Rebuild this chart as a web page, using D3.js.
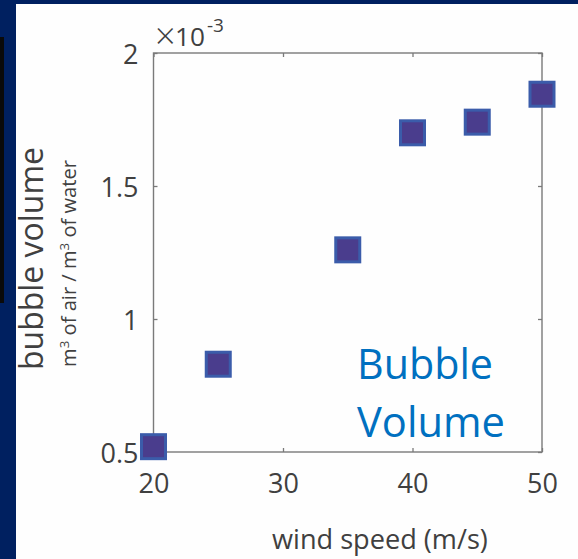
<!DOCTYPE html>
<html>
<head>
<meta charset="utf-8">
<script src="https://cdn.jsdelivr.net/npm/d3@7"></script>
<style>
  html, body { margin: 0; padding: 0; background: #fff; }
  svg { display: block; }
  text { font-family: "Open Sans", "Noto Sans", sans-serif; }
</style>
</head>
<body>
<svg id="chart" width="578" height="559"></svg>
<script>
// Wind speed (m/s) and the measured bubble volume (m³ of air per m³ of water)
const windSpeed = [20, 25, 35, 40, 45, 50];
const bubbleVolume = [0.52e-3, 0.83e-3, 1.26e-3, 1.70e-3, 1.74e-3, 1.845e-3];

const xTicks = [20, 30, 40, 50];
const yTicks = [0.5e-3, 1.0e-3, 1.5e-3, 2.0e-3];
const yExponent = -3;

const svg = d3.select("#chart");
const W = 578, H = 559;

// slide frame
svg.append("rect").attr("width", W).attr("height", H).attr("fill", "#002060");
svg.append("rect").attr("x", 0).attr("y", 37).attr("width", 4).attr("height", 266).attr("fill", "#0a0a0a");
svg.append("rect").attr("x", 16).attr("y", 4).attr("width", W - 16).attr("height", H - 4).attr("fill", "#fefefe");

const plot = { left: 153.5, right: 542, top: 53, bottom: 452 };

const x = d3.scaleLinear().domain([20, 50]).range([plot.left, plot.right]);
const y = d3.scaleLinear().domain([0.5e-3, 2e-3]).range([plot.bottom, plot.top]);

const axisColor = "#7a7a7a";
const textColor = "#404040";
const tickFont = "27px";
const fmt = v => d3.format("~g")(+(v / Math.pow(10, yExponent)).toFixed(6));

// scale a text's font size so that it spans the given width
function fitWidth(sel, target) {
  const node = sel.node();
  const fs = parseFloat(sel.style("font-size"));
  const len = node.getComputedTextLength();
  if (len > 0) sel.style("font-size", (fs * target / len) + "px");
  return sel;
}

function styleAxis(g, showLabels) {
  g.select(".domain").remove();
  g.selectAll(".tick line").attr("stroke", axisColor).attr("stroke-width", 1.3);
  if (showLabels) g.selectAll(".tick text").attr("fill", textColor).style("font-size", tickFont);
  else g.selectAll(".tick text").remove();
}

// bottom and top axes (ticks point inward)
svg.append("g").attr("transform", `translate(0,${plot.bottom})`)
  .call(d3.axisBottom(x).tickValues(xTicks).tickSize(-4).tickPadding(22).tickFormat(d3.format("d")))
  .call(g => styleAxis(g, true));
svg.append("g").attr("transform", `translate(0,${plot.top})`)
  .call(d3.axisTop(x).tickValues(xTicks).tickSize(-4).tickFormat(""))
  .call(g => styleAxis(g, false));

// left and right axes
svg.append("g").attr("transform", `translate(${plot.left},0)`)
  .call(d3.axisLeft(y).tickValues(yTicks).tickSize(-4).tickPadding(15).tickFormat(fmt))
  .call(g => styleAxis(g, true))
  .call(g => g.selectAll(".tick text").attr("dy", "0.4em"));
svg.append("g").attr("transform", `translate(${plot.right},0)`)
  .call(d3.axisRight(y).tickValues(yTicks).tickSize(-4).tickFormat(""))
  .call(g => styleAxis(g, false));

// plot box
svg.append("rect")
  .attr("x", plot.left).attr("y", plot.top)
  .attr("width", plot.right - plot.left).attr("height", plot.bottom - plot.top)
  .attr("fill", "none").attr("stroke", axisColor).attr("stroke-width", 1.4);

// exponent label: ×10^-3
svg.append("text").attr("x", 155).attr("y", 49).attr("fill", textColor)
  .style("font-size", "36px").style("font-weight", 300).text("×");
svg.append("text").attr("x", 175).attr("y", 46).attr("fill", textColor)
  .style("font-size", "25px").text("10")
  .call(s => fitWidth(s, 30));
svg.append("text").attr("x", 207).attr("y", 32).attr("fill", textColor)
  .style("font-size", "19px")
  .text(yExponent < 0 ? "-" + Math.abs(yExponent) : yExponent);

// square markers
const size = 27, sw = 3;
svg.append("g").selectAll("rect")
  .data(windSpeed.map((w, i) => ({ w, v: bubbleVolume[i] })))
  .join("rect")
  .attr("x", d => x(d.w) - (size - sw) / 2)
  .attr("y", d => y(d.v) - (size - sw) / 2)
  .attr("width", size - sw).attr("height", size - sw)
  .attr("fill", "#4a3d8d")
  .attr("stroke", "#3b5caa")
  .attr("stroke-width", sw);

// axis titles
svg.append("text")
  .attr("transform", "translate(43,258.5) rotate(-90)")
  .attr("text-anchor", "middle").attr("fill", textColor)
  .style("font-size", "30px")
  .text("bubble volume")
  .call(s => fitWidth(s, 223));

const sub = svg.append("text")
  .attr("transform", "translate(76,263.5) rotate(-90)")
  .attr("text-anchor", "middle").attr("fill", textColor)
  .style("font-size", "18px");
sub.append("tspan").text("m");
sub.append("tspan").attr("dy", -7).style("font-size", "12px").text("3");
sub.append("tspan").attr("dy", 7).text(" of air / m");
sub.append("tspan").attr("dy", -7).style("font-size", "12px").text("3");
sub.append("tspan").attr("dy", 7).text(" of water");
{
  const len = sub.node().getComputedTextLength();
  const k = 207 / len;
  sub.style("font-size", (18 * k) + "px");
  sub.selectAll("tspan").filter(function () { return d3.select(this).text() === "3"; })
    .style("font-size", (12 * k) + "px");
}

svg.append("text")
  .attr("x", 272).attr("y", 549)
  .attr("fill", textColor)
  .style("font-size", "24px")
  .text("wind speed (m/s)")
  .call(s => fitWidth(s, 216));

// annotation
svg.append("text").attr("x", 357).attr("y", 379).attr("fill", "#0070c0")
  .style("font-size", "41px").text("Bubble").call(s => fitWidth(s, 136));
svg.append("text").attr("x", 357).attr("y", 437).attr("fill", "#0070c0")
  .style("font-size", "41px").text("Volume").call(s => fitWidth(s, 148));
</script>
</body>
</html>
